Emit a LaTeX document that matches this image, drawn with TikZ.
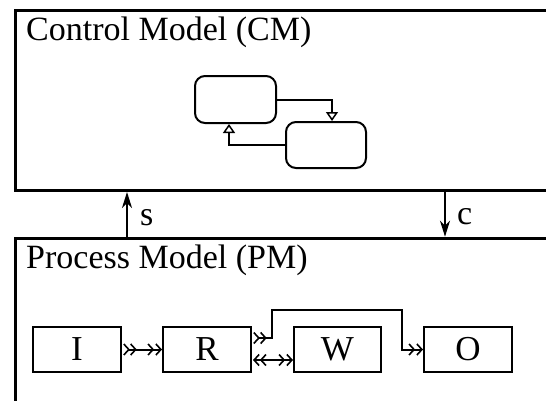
\documentclass[tikz,border=0pt]{standalone}
\usepackage{fontspec}
\setmainfont{Liberation Serif}
\usetikzlibrary{arrows.meta}
\tikzset{
  bb/.tip={Straight Barb[length=5pt,width=11pt,line width=1.6pt]},
  bbr/.tip={Straight Barb[reversed,length=5pt,width=11pt,line width=1.6pt]},
}
\begin{document}
\begin{tikzpicture}[x=1pt,y=-1pt,
  frame/.style={draw, line width=3pt, inner sep=0pt, anchor=north west},
  lbl/.style={font=\fontsize{34}{40}\selectfont, inner sep=0pt},
  state/.style={draw, line width=2pt, rounded corners=10pt, minimum width=81pt, minimum height=47pt, inner sep=0pt},
  proc/.style={draw, line width=2pt, minimum width=88pt, minimum height=45pt, inner sep=0pt, font=\fontsize{35}{40}\selectfont},
  flow/.style={line width=2pt},
  sig/.style={line width=2pt, -{Stealth[length=16pt,width=10pt,inset=5pt]}},
  trans/.style={line width=2pt, -{Triangle[length=9pt,width=12pt,line width=1.5pt,fill=white]}},
]
\useasboundingbox (0,0) rectangle (546,400);
\clip (0,0) rectangle (546,400);
% frames
\node[frame, minimum width=560pt, minimum height=180pt] (cm) at (14.3,9) {};
\node[frame, minimum width=560pt, minimum height=200pt] (pm) at (14.3,236.7) {};
\node[lbl, anchor=base west] (cmt) at (26,40) {Control Model (CM)};
\node[lbl, anchor=base west] (pmt) at (26,268) {Process Model (PM)};
% signals
\coordinate (sx) at (127,0);
\coordinate (cx) at (445,0);
\draw[sig] (pm.north -| sx) -- (cm.south -| sx);
\draw[sig] (cm.south -| cx) -- (pm.north -| cx);
\node[lbl, anchor=base west] (sl) at (140,225) {s};
\node[lbl, anchor=base west] (cl) at (457,224) {c};
% control model states
\node[state] (s1) at (235.5,99.5) {};
\node[state, minimum width=80pt, minimum height=46pt] (s2) at (326,145) {};
\draw[trans] (s1.east) -| ([xshift=6pt]s2.north);
\draw[trans] (s2.west) -| ([xshift=-6.5pt]s1.south);
% process model
\node[proc] (I) at (77,349.5) {I};
\node[proc] (R) at (207,349.5) {R};
\node[proc, minimum width=87pt] (W) at (337.5,349.5) {W};
\node[proc] (O) at (468,349.5) {O};
\coordinate (k1) at (272,310);
\coordinate (k2) at (402,310);
\draw[flow, {bbr[sep=1pt]bbr}-{bb[sep=1pt]bb}] (I.east) -- (R.west);
\draw[flow, {bbr[sep=1pt]bbr}-{bb[sep=1pt]bb}] ([yshift=11.5pt]R.east) -| (k1) -- (k2) |- (O.west);
\draw[flow, {bb[sep=1pt]bb}-{bb[sep=1pt]bb}] ([yshift=-10.5pt]R.east) -- ([yshift=-10.5pt]W.west);
\end{tikzpicture}
\end{document}
